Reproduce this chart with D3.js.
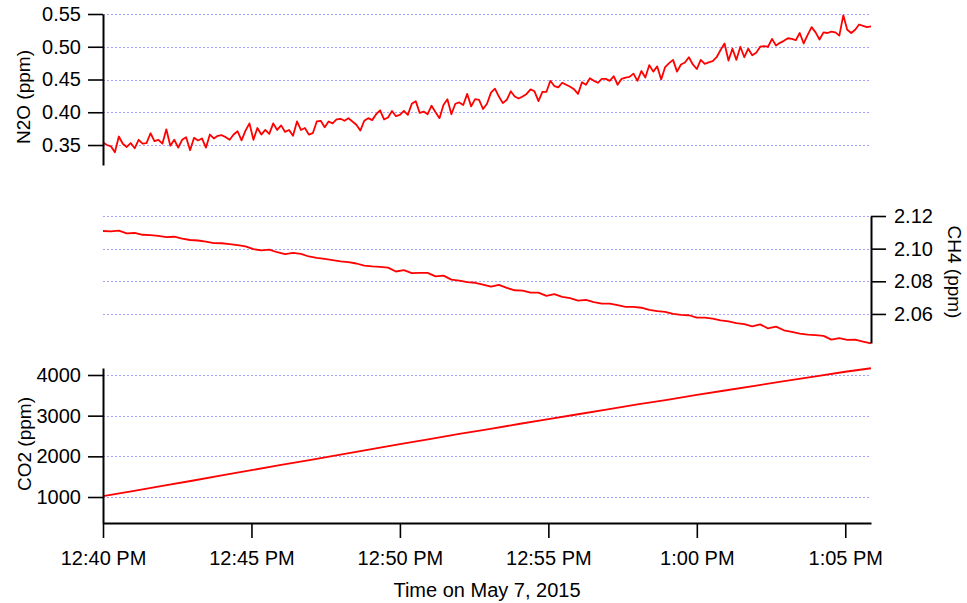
<!DOCTYPE html>
<html>
<head>
    <title>Gas concentrations, May 7, 2015</title>
    <script src="https://d3js.org/d3.v7.min.js"></script>
    <style>
        body { margin: 0; background: #fff; }
        text { font-family: "Liberation Sans", Arial, sans-serif; fill: #000; }
        .axis path, .axis line { stroke: #000; }
        .axis path { stroke-width: 2px; }
        .axis line { stroke-width: 1.6px; }
        .axis text { font-size: 20px; }
        .grid line { stroke: #a3a3ff; stroke-width: 1px; stroke-dasharray: 2,2; }
        .trace { fill: none; stroke: #ff0000; stroke-width: 1.8px; stroke-linejoin: round; }
        .title { font-size: 19px; }
    </style>
</head>
<body>
<script>
// start of the record and sampling steps (seconds)
var startTime = new Date(2015, 4, 7, 12, 40, 0);
var n2oStep = 8;
var ch4Step = 16;

// N2O (ppm), one value every 8 s
var n2o = [
    0.354,0.350,0.348,0.339,0.363,0.352,0.347,0.353,0.345,0.358,
    0.352,0.353,0.368,0.356,0.358,0.352,0.374,0.349,0.358,0.346,
    0.358,0.362,0.342,0.361,0.357,0.360,0.346,0.366,0.360,0.364,
    0.365,0.362,0.358,0.366,0.371,0.357,0.372,0.383,0.358,0.376,
    0.366,0.373,0.367,0.383,0.373,0.380,0.370,0.373,0.364,0.386,
    0.373,0.376,0.366,0.368,0.386,0.387,0.377,0.386,0.383,0.389,
    0.390,0.387,0.391,0.386,0.381,0.372,0.387,0.391,0.388,0.397,
    0.403,0.389,0.392,0.402,0.394,0.396,0.402,0.396,0.413,0.417,
    0.399,0.401,0.397,0.410,0.400,0.391,0.411,0.420,0.397,0.413,
    0.415,0.411,0.428,0.409,0.420,0.419,0.405,0.413,0.430,
    0.436,0.424,0.414,0.419,0.432,0.424,0.421,0.424,0.428,0.435,
    0.432,0.417,0.431,0.431,0.448,0.440,0.438,0.445,0.442,0.439,
    0.435,0.428,0.446,0.442,0.452,0.448,0.445,0.451,0.451,0.448,
    0.455,0.442,0.451,0.453,0.454,0.459,0.448,0.463,0.453,0.472,
    0.462,0.470,0.450,0.469,0.475,0.480,0.462,0.473,0.476,0.484,
    0.473,0.466,0.480,0.474,0.476,0.478,0.484,0.495,0.505,0.479,
    0.497,0.480,0.500,0.484,0.497,0.487,0.491,0.500,0.501,0.500,
    0.512,0.502,0.506,0.509,0.513,0.512,0.510,0.521,0.505,0.518,
    0.530,0.522,0.511,0.522,0.521,0.523,0.522,0.517,0.548,0.526,
    0.521,0.526,0.534,0.532,0.530,0.531
];

// CH4 (ppm), one value every 16 s
var ch4 = [
    2.1108,2.1106,2.1110,2.1094,2.1096,2.1085,2.1083,2.1078,2.1071,2.1073,
    2.1061,2.1053,2.1050,2.1043,2.1034,2.1033,2.1028,2.1022,2.1014,2.0997,
    2.0990,2.0994,2.0978,2.0967,2.0974,2.0968,2.0952,2.0943,2.0937,2.0930,
    2.0922,2.0918,2.0909,2.0896,2.0891,2.0888,2.0884,2.0860,2.0868,2.0850,
    2.0851,2.0852,2.0830,2.0835,2.0810,2.0804,2.0795,2.0791,2.0780,2.0767,
    2.0778,2.0760,2.0745,2.0743,2.0730,2.0731,2.0711,2.0722,2.0705,2.0697,
    2.0682,2.0686,2.0673,2.0663,2.0663,2.0654,2.0643,2.0643,2.0638,2.0625,
    2.0617,2.0613,2.0600,2.0594,2.0592,2.0577,2.0577,2.0571,2.0560,2.0555,
    2.0544,2.0538,2.0524,2.0536,2.0511,2.0522,2.0500,2.0490,2.0480,2.0473,
    2.0470,2.0466,2.0443,2.0452,2.0441,2.0442,2.0431,2.0419
];

// CO2 (ppm) against minutes after 12:40
var co2Minutes = [0,1,2,3,4,5,6,7,8,9,10,11,12,13,14,15,16,17,18,19,20,21,22,23,24,25,25.867];
var co2 = [1020,1145,1275,1400,1530,1660,1790,1915,2040,2170,2300,2425,2550,2670,2795,
           2915,3035,3155,3275,3390,3510,3625,3740,3855,3965,4080,4166];

var n2oTicks = [0.35, 0.40, 0.45, 0.50, 0.55];
var ch4Ticks = [2.06, 2.08, 2.10, 2.12];
var co2Ticks = [1000, 2000, 3000, 4000];

var width = 967, height = 603;
var left = 103, right = 871;

var svg = d3.select("body").append("svg")
    .attr("width", width)
    .attr("height", height);

var addSeconds = (s) => new Date(startTime.getTime() + s * 1000);
var endTime = addSeconds((n2o.length - 1) * n2oStep);

var x = d3.scaleTime().domain([startTime, endTime]).range([left, right]);

var yN2O = d3.scaleLinear().domain([0.3195, 0.55]).range([165, 14]);
var yCH4 = d3.scaleLinear().domain([2.0422, 2.12]).range([343, 216]);
var yCO2 = d3.scaleLinear().domain([361, 4172]).range([523, 368]);

function grid(scale, ticks) {
    svg.append("g").attr("class", "grid")
        .selectAll("line").data(ticks).enter().append("line")
        .attr("x1", left).attr("x2", right)
        .attr("y1", d => Math.round(scale(d)) + 0.5)
        .attr("y2", d => Math.round(scale(d)) + 0.5);
}
grid(yN2O, n2oTicks);
grid(yCH4, ch4Ticks);
grid(yCO2, co2Ticks);

// traces
var n2oData = n2o.map((v, i) => ({t: addSeconds(i * n2oStep), v: v}));
var ch4Data = ch4.map((v, i) => ({t: addSeconds(i * ch4Step), v: v}));
var co2Data = co2.map((v, i) => ({t: addSeconds(co2Minutes[i] * 60), v: v}));

function trace(data, y) {
    svg.append("path")
        .datum(data)
        .attr("class", "trace")
        .attr("d", d3.line().x(d => x(d.t)).y(d => y(d.v)));
}
trace(n2oData, yN2O);
trace(ch4Data, yCH4);
trace(co2Data, yCO2);

// axes
svg.append("g").attr("class", "axis")
    .attr("transform", "translate(" + left + ",0)")
    .call(d3.axisLeft(yN2O).tickValues(n2oTicks).tickFormat(d3.format(".2f"))
        .tickSizeInner(15).tickSizeOuter(0).tickPadding(7));

svg.append("g").attr("class", "axis")
    .attr("transform", "translate(" + right + ",0)")
    .call(d3.axisRight(yCH4).tickValues(ch4Ticks).tickFormat(d3.format(".2f"))
        .tickSizeInner(15).tickSizeOuter(0).tickPadding(8));

svg.append("g").attr("class", "axis")
    .attr("transform", "translate(" + left + ",0)")
    .call(d3.axisLeft(yCO2).tickValues(co2Ticks).tickFormat(d3.format("d"))
        .tickSizeInner(15).tickSizeOuter(0).tickPadding(7));

svg.append("g").attr("class", "axis")
    .attr("transform", "translate(0,523)")
    .call(d3.axisBottom(x).ticks(d3.timeMinute.every(5)).tickFormat(d3.timeFormat("%-I:%M %p"))
        .tickSizeInner(15).tickSizeOuter(0).tickPadding(13));

// axis titles
svg.append("text").attr("class", "title")
    .attr("transform", "translate(30,97) rotate(-90)")
    .attr("text-anchor", "middle")
    .text("N2O (ppm)");

svg.append("text").attr("class", "title")
    .attr("transform", "translate(948,272) rotate(90)")
    .attr("text-anchor", "middle")
    .text("CH4 (ppm)");

svg.append("text").attr("class", "title")
    .attr("transform", "translate(31,444) rotate(-90)")
    .attr("text-anchor", "middle")
    .text("CO2 (ppm)");

svg.append("text").attr("class", "title")
    .attr("x", (left + right) / 2)
    .attr("y", 597)
    .attr("text-anchor", "middle")
    .style("font-size", "20px")
    .text("Time on May 7, 2015");
</script>
</body>
</html>
